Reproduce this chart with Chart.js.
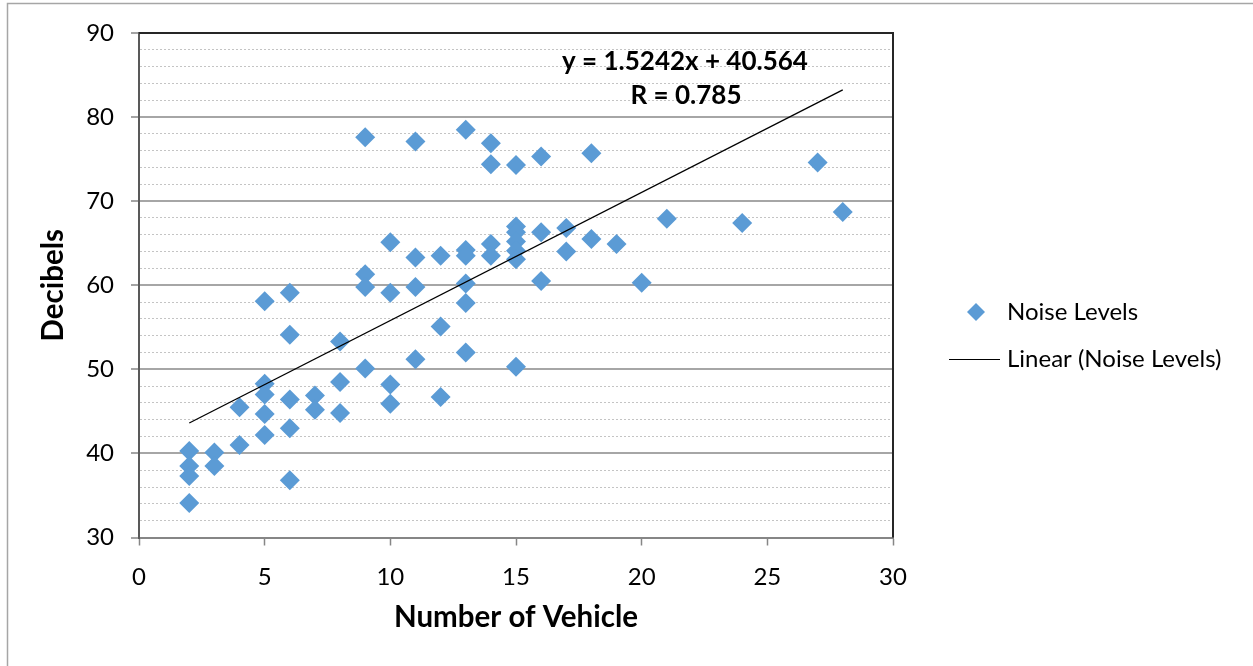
<!DOCTYPE html>
<html>
<head>
<meta charset="utf-8">
<script src="https://cdn.jsdelivr.net/npm/chart.js@4/dist/chart.umd.min.js"></script>
<style>
  html, body { margin: 0; padding: 0; background: #fff; }
  #wrap { width: 1253px; height: 666px; }
</style>
</head>
<body>
<div id="wrap"><canvas id="noiseChart" width="1253" height="666"></canvas></div>
<script>
const vehicles = [
  2, 2, 2, 2,
  3, 3,
  4, 4,
  5, 5, 5, 5, 5,
  6, 6, 6, 6, 6,
  7, 7,
  8, 8, 8,
  9, 9, 9, 9,
  10, 10, 10, 10,
  11, 11, 11, 11,
  12, 12, 12,
  13, 13, 13, 13, 13, 13,
  14, 14, 14, 14,
  15, 15, 15, 15, 15, 15, 15,
  16, 16, 16,
  17, 17,
  18, 18,
  19, 20, 21, 24, 27, 28
];
const decibels = [
  40.3, 38.5, 37.3, 34.1,
  40.1, 38.5,
  45.5, 41.0,
  58.1, 48.3, 47.0, 44.7, 42.2,
  59.1, 54.1, 46.4, 43.0, 36.8,
  46.9, 45.2,
  53.3, 48.5, 44.8,
  77.6, 61.3, 59.8, 50.1,
  65.1, 59.1, 48.2, 45.9,
  77.1, 63.3, 59.8, 51.2,
  63.5, 55.1, 46.7,
  78.5, 64.2, 63.5, 60.2, 57.9, 52.0,
  76.9, 74.4, 64.9, 63.5,
  74.3, 67.0, 66.3, 65.2, 64.1, 63.1, 50.3,
  75.3, 66.3, 60.5,
  66.8, 64.0,
  75.7, 65.5,
  64.9, 60.3, 67.9, 67.4, 74.6, 68.7
];

// trendline as printed on the chart
const slope = 1.5242;
const intercept = 40.564;
const equationText = 'y = 1.5242x + 40.564';
const rText = 'R = 0.785';

const xTicks = [0, 5, 10, 15, 20, 25, 30];
const yRange = [30, 90];

const points = vehicles.map((v, i) => ({ x: v, y: decibels[i] }));
const xMin = Math.min(...vehicles);
const xMax = Math.max(...vehicles);
const trend = [xMin, xMax].map(x => ({ x: x, y: slope * x + intercept }));

const FONT = 'Lato, "Open Sans", sans-serif';
const BLUE = '#5b9bd5';

// outer frame, plot frame, equation and legend
const decorations = {
  id: 'decorations',
  beforeDraw(chart) {
    const c = chart.ctx;
    c.save();
    c.fillStyle = '#fff';
    c.fillRect(0, 0, chart.width, chart.height);
    c.strokeStyle = '#a6a6a6';
    c.lineWidth = 1.5;
    c.strokeRect(7.5, 3.5, chart.width + 10, chart.height + 10);
    c.restore();
  },
  afterDraw(chart) {
    const c = chart.ctx;
    const a = chart.chartArea;
    c.save();
    // top and right edge of the plot area
    c.strokeStyle = '#262626';
    c.lineWidth = 2;
    c.beginPath();
    c.moveTo(a.left, a.top);
    c.lineTo(a.right, a.top);
    c.lineTo(a.right, a.bottom);
    c.stroke();

    // equation
    c.fillStyle = '#000';
    c.font = 'bold 26px ' + FONT;
    c.textAlign = 'center';
    c.textBaseline = 'middle';
    c.fillText(equationText, 685, 62);
    c.fillText(rText, 686, 96);

    // legend
    c.font = '24px ' + FONT;
    c.textAlign = 'left';
    const lx = 976, ly1 = 312, ly2 = 359;
    c.fillStyle = BLUE;
    c.beginPath();
    c.moveTo(lx, ly1 - 9);
    c.lineTo(lx + 9, ly1);
    c.lineTo(lx, ly1 + 9);
    c.lineTo(lx - 9, ly1);
    c.closePath();
    c.fill();
    c.fillStyle = '#000';
    c.fillText('Noise Levels', 1007, ly1);
    c.strokeStyle = '#000';
    c.lineWidth = 1;
    c.beginPath();
    c.moveTo(949, ly2 + 0.5);
    c.lineTo(1000, ly2 + 0.5);
    c.stroke();
    c.fillText('Linear (Noise Levels)', 1007, ly2);
    c.restore();
  }
};

const isMajor = ctx => ctx.tick && ctx.tick.value % 10 === 0;

new Chart(document.getElementById('noiseChart').getContext('2d'), {
  type: 'scatter',
  data: {
    datasets: [{
      label: 'Noise Levels',
      data: points,
      pointStyle: 'rectRot',
      pointRadius: 10,
      pointHoverRadius: 10,
      backgroundColor: BLUE,
      borderColor: BLUE,
      borderWidth: 0,
      order: 2
    }, {
      label: 'Linear (Noise Levels)',
      type: 'line',
      data: trend,
      borderColor: '#000',
      borderWidth: 1.3,
      pointRadius: 0,
      fill: false,
      order: 1
    }]
  },
  options: {
    responsive: false,
    animation: false,
    layout: { padding: { left: 0, top: 33, right: 360, bottom: 0 } },
    plugins: {
      legend: { display: false },
      tooltip: { enabled: false }
    },
    scales: {
      x: {
        type: 'linear',
        min: xTicks[0],
        max: xTicks[xTicks.length - 1],
        afterBuildTicks: scale => { scale.ticks = xTicks.map(v => ({ value: v })); },
        afterFit: scale => { scale.height = 128.5; },
        ticks: { color: '#000', font: { family: FONT, size: 24 }, padding: 17, maxRotation: 0, autoSkip: false },
        grid: { drawOnChartArea: false, tickLength: 8, tickColor: '#868686', tickWidth: 1.5 },
        border: { color: '#868686', width: 2 },
        title: {
          display: true,
          text: 'Number of Vehicle',
          color: '#000',
          font: { family: FONT, size: 29.5, weight: 'bold' },
          padding: { top: 0, bottom: 31 }
        }
      },
      y: {
        min: yRange[0],
        max: yRange[1],
        afterFit: scale => { scale.width = 139; },
        ticks: {
          stepSize: 2,
          autoSkip: false,
          color: '#000',
          font: { family: FONT, size: 24 },
          padding: 17,
          callback: v => (v % 10 === 0 ? v : '')
        },
        grid: {
          color: ctx => (isMajor(ctx) ? '#a6a6a6' : '#c4c4c4'),
          lineWidth: ctx => (isMajor(ctx) ? 2 : 1),
          tickLength: 8,
          tickColor: ctx => (isMajor(ctx) ? '#868686' : 'rgba(0,0,0,0)'),
          tickWidth: 1.5
        },
        border: {
          color: '#595959',
          width: 2,
          dash: ctx => (ctx.tick && ctx.tick.value % 10 !== 0 ? [2, 2] : [])
        },
        title: {
          display: true,
          text: 'Decibels',
          color: '#000',
          font: { family: FONT, size: 29.5, weight: 'bold' },
          padding: { top: 36, bottom: 0 }
        }
      }
    }
  },
  plugins: [decorations]
});
</script>
</body>
</html>
